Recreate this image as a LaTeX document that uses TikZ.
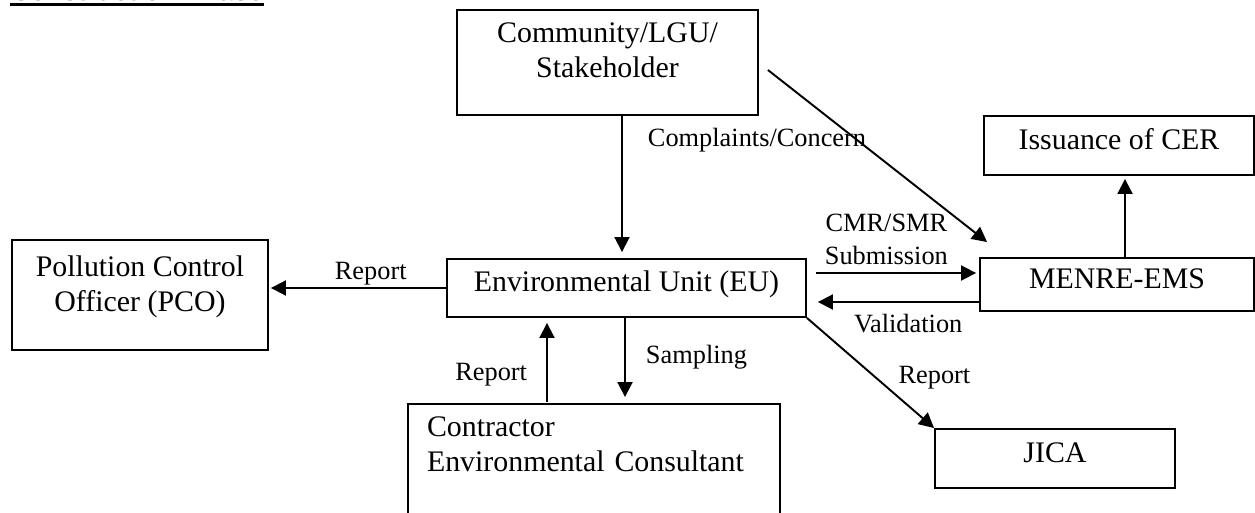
\documentclass[tikz,border=0pt]{standalone}
\usepackage{fontspec}
\setmainfont{Liberation Serif}
\newfontfamily\headfont{Liberation Sans}
\usetikzlibrary{arrows.meta, calc}

\tikzset{
  box/.style={draw, line width=1.1pt, inner sep=0pt, align=center,
    font=\fontsize{17}{20.3}\selectfont, text height=0.7em, text depth=0.3em},
  lbl/.style={inner sep=0pt, align=center, font=\fontsize{15}{19}\selectfont},
}

\begin{document}
\begin{tikzpicture}[->, >={Triangle[length=0.3cm,width=0.3cm]}, line width=1.1pt, x=0.02cm, y=-0.02cm]
  \useasboundingbox (0,0) rectangle (1255,513);
  \clip (0,0) rectangle (1255,513);

  % heading (runs off the top edge)
  \node[anchor=base west, inner sep=0pt, font=\headfont\bfseries\fontsize{15.2}{18}\selectfont] (head) at (10,0.5) {Construction Phase};
  \draw[-, line width=1.5pt] ($(head.base west)+(0,4.2)$) -- ($(head.base east)+(0,4.2)$);

  % boxes
  \node[box, minimum width=6.02cm, text height=1.354cm, text depth=0.746cm] (com) at (607.5,62.5) {Community/LGU/\\Stakeholder};
  \node[box, minimum width=5.4cm, minimum height=1.18cm] (cer) at (1119,145.5) {Issuance of CER};
  \node[box, minimum width=5.12cm, text height=1.44cm, text depth=0.76cm] (pco) at (140,295) {Pollution Control\\Officer (PCO)};
  \node[box, minimum width=7.18cm, minimum height=1.16cm] (eu) at (626.5,288) {Environmental Unit (EU)};
  \node[box, minimum width=5.48cm, minimum height=1.06cm] (menre) at (1117,284.5) {MENRE-EMS};
  \node[box, align=left, text width=6.68cm, inner xsep=0.38cm, text height=0.64cm, text depth=2.08cm] (con) at (594,472) {Contractor\\Environmental Consultant};
  \node[box, minimum width=4.8cm, minimum height=1.18cm] (jica) at (1055,458.5) {JICA};

  % flows
  \draw ($(com.south)+(14.5,0)$) -- node[lbl, pos=0.18, right=0.5cm] {Complaints/Concern} ($(eu.north)+(-4.5,-6)$);
  \draw ($(com.east)+(9,7.5)$) -- ($(menre.north west)+(8,-15)$);
  \draw ($(eu.east)+(9,-15)$) -- node[lbl, pos=0.44, above=0.14cm] {CMR/SMR\\Submission} ($(menre.west)+(-3,-11.5)$);
  \draw ($(menre.west)+(0,17.5)$) -- node[lbl, pos=0.44, below=0.22cm] {Validation} ($(eu.east)+(11,14)$);
  \draw ($(menre.north)+(8,0)$) -- ($(cer.south)+(6,3)$);
  \draw (eu.west) -- node[lbl, pos=0.43, above=0.04cm] {Report} ($(pco.east)+(2,-7)$);
  \draw ($(eu.south)+(-1.5,0)$) -- node[lbl, pos=0.5, right=0.4cm] {Sampling} ($(con.north)+(31,-6)$);
  \draw ($(con.north)+(-47,-1)$) -- node[lbl, pos=0.35, left=0.38cm] {Report} ($(eu.south)+(-79.5,5)$);
  \draw (eu.south east) -- node[lbl, pos=0.54, right=0.44cm] {Report} (jica.north west);
\end{tikzpicture}
\end{document}
